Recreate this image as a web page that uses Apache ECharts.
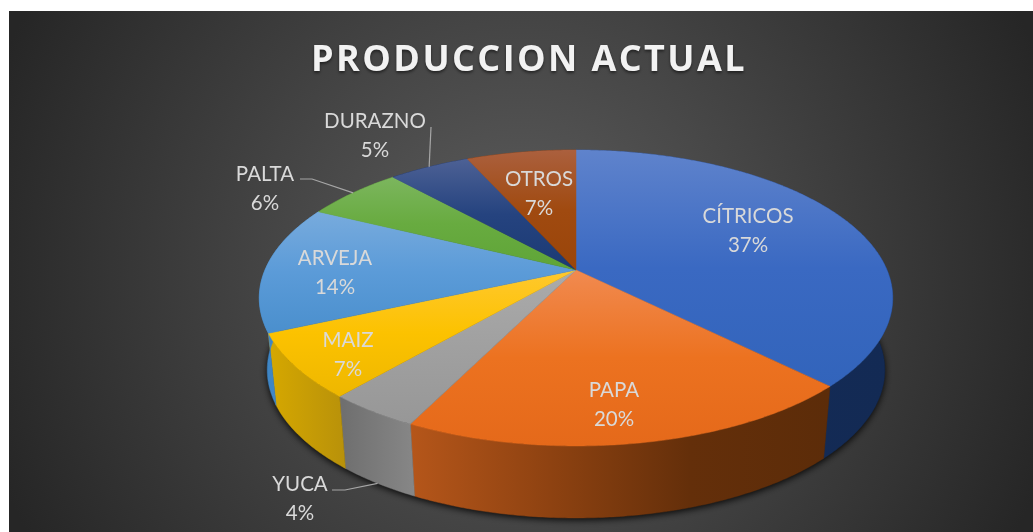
<!DOCTYPE html>
<html><head><meta charset="utf-8"><style>html,body{margin:0;padding:0;background:#fff}#c{width:1033px;height:532px}</style>
<script src="https://cdn.jsdelivr.net/npm/echarts@6/dist/echarts.min.js"></script></head>
<body><div id="c"></div>
<script>
const titleText = 'PRODUCCION ACTUAL';
const categories = ['CÍTRICOS','PAPA','YUCA','MAIZ','ARVEJA','PALTA','DURAZNO','OTROS'];
const shares = [37.49,19.8,4,7,14,6,5,6.71];
const shownPercent = ['37%','20%','4%','7%','14%','6%','5%','7%'];

// styles and layout, separate from the data
const topColors = [['#5f83cc','#3a69c2','#3264bb'],['#f18a50','#ec7220','#e5691a'],['#ababab','#a0a0a0','#979797'],['#ffc82e','#fcc200','#eeb700'],['#78abdd','#5b9bd8','#4a8fcd'],['#7cb65e','#68ab40','#5fa537'],['#4d6195','#25437f','#1b3a74'],['#ab603e','#a04a10','#9a4509']];
const wallColors = [['#142c58','#132a54'],['#b5561a','#8e4211','#642f0a','#5c2c09'],['#6e6e6e','#878787'],['#d6a800','#b8910a'],['#3d84c4','#4a8fcb'],['#3e6e25','#3e6e25'],['#122650','#122650'],['#672f08','#672f08']];
const labelCenters = [[748,231],[614,405],[300,499],[348,355],[335,273],[265,189],[375,136],[539,194]];
const leaderStarts = {2:[[332,490],[345,490]],5:[[300,179],[312,179]],6:[[431,127]]};
const C = {x:576,y:270,a:311,b:142.7,p:0.189,depth:72,shrink:0.975,labelSize:20.5};
const TITLE_SIZE = 36, TITLE_TRACKING = '2.4px';

// The renderer has no tracking option, so it is applied for the title's font only.
const nativeFill = CanvasRenderingContext2D.prototype.fillText;
CanvasRenderingContext2D.prototype.fillText = function(text,x,y,w){
  const isTitle = this.font.indexOf('bold')>=0 && this.font.indexOf(TITLE_SIZE+'px')>=0;
  const prev = this.letterSpacing;
  if(isTitle) this.letterSpacing = TITLE_TRACKING;
  const out = w===undefined ? nativeFill.call(this,text,x,y) : nativeFill.call(this,text,x,y,w);
  this.letterSpacing = prev;
  return out;
};

function rim(theta){
  const X=Math.sin(theta),Y=Math.cos(theta),d=1+C.p*Y;
  return [C.x+C.a*X/d,C.y-C.b*Y/d];
}
function rimLow(theta){
  const q=rim(theta);
  return [C.x+(q[0]-C.x)*C.shrink,q[1]+C.depth];
}
const total = shares.reduce((s,v)=>s+v,0);
function angles(i){
  let before=0;for(let k=0;k<i;k++)before+=shares[k];
  return [before/total*2*Math.PI,(before+shares[i])/total*2*Math.PI];
}
function arc(fn,t0,t1){
  const n=Math.max(4,Math.ceil((t1-t0)/0.01)),pts=[];
  for(let k=0;k<=n;k++)pts.push(fn(t0+(t1-t0)*k/n));
  return pts;
}
function grad(horizontal,cols){
  const stops=cols.map((c,i)=>({offset:i/(cols.length-1),color:c}));
  return new echarts.graphic.LinearGradient(0,0,horizontal?1:0,horizontal?0:1,stops);
}

const option = {
  animation:false,
  graphic:[{type:'rect',z:-10,silent:true,shape:{x:9,y:11,width:1024,height:521},
    style:{fill:new echarts.graphic.RadialGradient(521,271,560,[{offset:0,color:'#5e5e5e'},{offset:1,color:'#262626'}],true)}}],
  title:{text:titleText,left:524,top:38,textAlign:'center',
    textStyle:{fontFamily:'Open Sans',fontWeight:'bold',fontSize:TITLE_SIZE,color:'#f2f2f2',textShadowColor:'rgba(0,0,0,0.5)',textShadowBlur:3,textShadowOffsetY:2}},
  series:[
    {type:'custom',coordinateSystem:'none',silent:true,z:1,data:[total],
     renderItem(){
       const pts=arc(rimLow,0,2*Math.PI);
       return {type:'polygon',shape:{points:pts},style:{fill:'#111',shadowColor:'rgba(0,0,0,0.9)',shadowBlur:7,shadowOffsetY:2}};
     }},
    {type:'custom',coordinateSystem:'none',silent:true,z:2,data:shares,
     renderItem(params){
       const i=params.dataIndex,[t0,t1]=angles(i);
       const pts=arc(rim,t0,t1).concat(arc(rimLow,t0,t1).reverse());
       const g=grad(true,wallColors[i]);
       return {type:'polygon',shape:{points:pts},style:{fill:g,stroke:g,lineWidth:0.5}};
     }},
    {type:'custom',coordinateSystem:'none',silent:true,z:3,data:shares,
     renderItem(params){
       const i=params.dataIndex,[t0,t1]=angles(i);
       const pts=[[C.x,C.y]].concat(arc(rim,t0,t1));
       const g=grad(false,topColors[i]);
       return {type:'polygon',shape:{points:pts},style:{fill:g,stroke:g,lineWidth:0.5}};
     }},
    {type:'custom',coordinateSystem:'none',silent:true,z:4,data:shares,
     renderItem(params){
       const i=params.dataIndex,[t0,t1]=angles(i),mid=(t0+t1)/2;
       const children=[{type:'text',style:{text:categories[i]+'\n'+shownPercent[i],x:labelCenters[i][0],y:labelCenters[i][1],
         align:'center',verticalAlign:'middle',fill:'#d9d9d9',fontFamily:'Lato',fontSize:C.labelSize,lineHeight:29}}];
       if(leaderStarts[i]){
         const end=(mid>Math.PI/2&&mid<3*Math.PI/2)?rimLow(mid):rim(mid);
         children.push({type:'polyline',shape:{points:leaderStarts[i].concat([end])},style:{fill:'none',stroke:'#a6a6a6',lineWidth:1.2}});
       }
       return {type:'group',children};
     }}
  ]
};
echarts.init(document.getElementById('c'),null,{renderer:'canvas'}).setOption(option);
</script></body></html>
